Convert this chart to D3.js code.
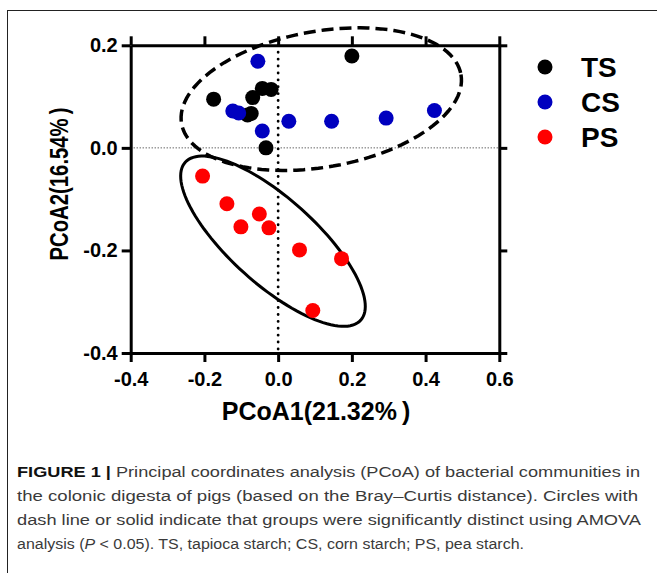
<!DOCTYPE html>
<html>
<head>
<meta charset="utf-8">
<script src="https://cdn.jsdelivr.net/npm/d3@7"></script>
<style>
  body { margin: 0; background: #fff; }
  svg { display: block; }
</style>
</head>
<body>
<svg id="chart" width="657" height="573"></svg>
<script>
// group names and values
const groups = ["TS", "CS", "PS"];
const tsX = [0.200, -0.175, -0.069, -0.043, -0.019, -0.083, -0.073, -0.033];
const tsY = [0.179, 0.095, 0.098, 0.116, 0.114, 0.064, 0.067, 0.000];
const csX = [-0.055, -0.123, -0.107, -0.043, 0.029, 0.145, 0.293, 0.424];
const csY = [0.169, 0.072, 0.068, 0.033, 0.052, 0.052, 0.058, 0.073];
const psX = [-0.205, -0.139, -0.051, -0.101, -0.025, 0.058, 0.172, 0.094];
const psY = [-0.055, -0.109, -0.129, -0.154, -0.156, -0.199, -0.216, -0.317];
const xTicks = [-0.4, -0.2, 0.0, 0.2, 0.4, 0.6];
const yTicks = [-0.4, -0.2, 0.0, 0.2];
// ellipses: centre and two half-axis vectors, in data units
const dashEllipse = [0.117, 0.095, 0.379, 0.048, 0.032, -0.1305];
const solidEllipse = [-0.014, -0.182, 0.238, -0.154, -0.078, -0.062];
const captionLines = [
  "Principal coordinates analysis (PCoA) of bacterial communities in",
  "the colonic digesta of pigs (based on the Bray\u2013Curtis distance). Circles with",
  "dash line or solid indicate that groups were significantly distinct using AMOVA",
  "analysis (P < 0.05). TS, tapioca starch; CS, corn starch; PS, pea starch."
];

const colors = { TS: "#000000", CS: "#0000bf", PS: "#ff0000" };
const seriesX = { TS: tsX, CS: csX, PS: psX };
const seriesY = { TS: tsY, CS: csY, PS: psY };

const svg = d3.select("#chart");

// outer figure frame (only left and top edges show)
svg.append("rect")
  .attr("x", 7.5).attr("y", 10.5)
  .attr("width", 700).attr("height", 600)
  .attr("fill", "none")
  .attr("stroke", "#222")
  .attr("stroke-width", 1);

const x = d3.scaleLinear().domain([-0.4, 0.6]).range([130.7, 499.3]);
const y = d3.scaleLinear().domain([-0.4, 0.2]).range([353, 45.3]);

const fmt = d => d3.format(".1f")(d).replace("\u2212", "-");
const boldFont = "Arial, 'Liberation Sans', sans-serif";

// dotted zero lines
svg.append("line")
  .attr("x1", x(-0.4)).attr("x2", x(0.6))
  .attr("y1", y(0)).attr("y2", y(0))
  .attr("stroke", "#222").attr("stroke-width", 1)
  .attr("stroke-dasharray", "1,2");
svg.append("line")
  .attr("x1", x(0)).attr("x2", x(0))
  .attr("y1", y(0.2)).attr("y2", y(-0.4))
  .attr("stroke", "#000").attr("stroke-width", 2.8)
  .attr("stroke-linecap", "round")
  .attr("stroke-dasharray", "0.1,6.8");

// ellipses
function ellipsePath(e) {
  const pts = d3.range(0, 121).map(i => {
    const t = i / 120 * 2 * Math.PI;
    return [x(e[0] + e[2] * Math.cos(t) + e[4] * Math.sin(t)),
            y(e[1] + e[3] * Math.cos(t) + e[5] * Math.sin(t))];
  });
  return d3.line()(pts) + "Z";
}
svg.append("path")
  .attr("d", ellipsePath(dashEllipse))
  .attr("fill", "none").attr("stroke", "#000")
  .attr("stroke-width", 3.5)
  .attr("stroke-dasharray", "12,6");
svg.append("path")
  .attr("d", ellipsePath(solidEllipse))
  .attr("fill", "none").attr("stroke", "#000")
  .attr("stroke-width", 3);

// points
groups.forEach(g => {
  svg.append("g").selectAll("circle")
    .data(d3.zip(seriesX[g], seriesY[g]))
    .join("circle")
    .attr("cx", d => x(d[0]))
    .attr("cy", d => y(d[1]))
    .attr("r", 7.5)
    .attr("fill", colors[g]);
});

// axes (box with mirrored ticks)
function styleAxis(g) {
  g.selectAll("path.domain").attr("stroke", "#000").attr("stroke-width", 3);
  g.selectAll(".tick line").attr("stroke", "#000").attr("stroke-width", 3);
  g.selectAll("text")
    .attr("font-family", boldFont)
    .attr("font-weight", "bold")
    .attr("font-size", 20)
    .attr("fill", "#000");
}

const gx = svg.append("g")
  .attr("transform", `translate(0,${y(-0.4)})`)
  .call(d3.axisBottom(x).tickValues(xTicks).tickFormat(fmt).tickSize(9).tickSizeOuter(0).tickPadding(10));
styleAxis(gx);

const gy = svg.append("g")
  .attr("transform", `translate(${x(-0.4)},0)`)
  .call(d3.axisLeft(y).tickValues(yTicks).tickFormat(fmt).tickSize(9).tickSizeOuter(0).tickPadding(4));
styleAxis(gy);

const gt = svg.append("g")
  .attr("transform", `translate(0,${y(0.2)})`)
  .call(d3.axisTop(x).tickValues(xTicks).tickFormat("").tickSize(9).tickSizeOuter(0));
styleAxis(gt);

const gr = svg.append("g")
  .attr("transform", `translate(${x(0.6)},0)`)
  .call(d3.axisRight(y).tickValues(yTicks).tickFormat("").tickSize(8).tickSizeOuter(0));
styleAxis(gr);

// axis titles
svg.append("text")
  .attr("x", 316).attr("y", 420)
  .attr("text-anchor", "middle")
  .attr("font-family", boldFont).attr("font-weight", "bold")
  .attr("font-size", 25)
  .text("PCoA1(21.32%\u2009)");

svg.append("text")
  .attr("transform", "translate(67.5,184) rotate(-90)")
  .attr("text-anchor", "middle")
  .attr("font-family", boldFont).attr("font-weight", "bold")
  .attr("font-size", 25)
  .attr("textLength", 153)
  .attr("lengthAdjust", "spacingAndGlyphs")
  .text("PCoA2(16.54%\u2009)");

// legend
const legend = svg.append("g").selectAll("g")
  .data(groups)
  .join("g")
  .attr("transform", (d, i) => `translate(545,${67 + i * 35})`);
legend.append("circle")
  .attr("r", 7.5)
  .attr("fill", d => colors[d]);
legend.append("text")
  .attr("x", 36).attr("y", 10)
  .attr("font-family", boldFont).attr("font-weight", "bold")
  .attr("font-size", 28)
  .text(d => d);

// caption
const cap = svg.append("g")
  .attr("font-family", "'Liberation Sans', Arial, sans-serif")
  .attr("font-size", 15.5)
  .attr("fill", "#3a3a3a");
const lineW = [623, 621, 624, 507];
captionLines.forEach((line, i) => {
  const t = cap.append("text")
    .attr("x", 17).attr("y", 477 + i * 24)
    .attr("textLength", lineW[i])
    .attr("lengthAdjust", "spacingAndGlyphs");
  if (i === 0) {
    t.append("tspan").attr("font-weight", "bold").attr("fill", "#111").text("FIGURE 1 | ");
    t.append("tspan").text(line);
  } else if (i === 3) {
    t.append("tspan").text("analysis (");
    t.append("tspan").attr("font-style", "italic").text("P");
    t.append("tspan").text(line.slice("analysis (P".length));
  } else {
    t.text(line);
  }
});
</script>
</body>
</html>
